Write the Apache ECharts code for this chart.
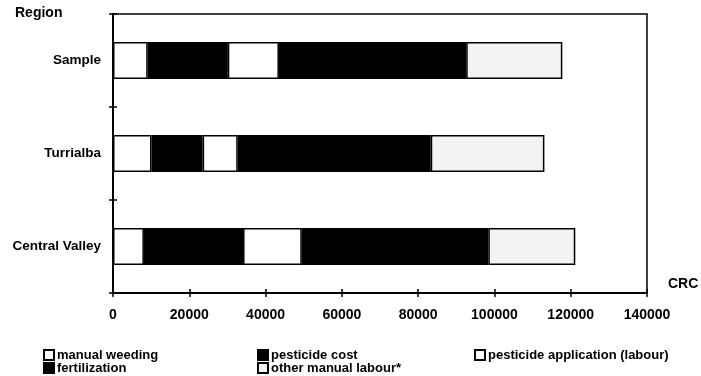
<!DOCTYPE html>
<html>
<head>
<meta charset="utf-8">
<script src="https://cdn.jsdelivr.net/npm/echarts@6/dist/echarts.min.js"></script>
<style>
  html, body { margin: 0; padding: 0; background: #fff; }
  #chart { width: 701px; height: 376px; }
</style>
</head>
<body>
<div id="chart"></div>
<script>
// Cost components per region (CRC), stacked left to right
const regions = ['Sample', 'Turrialba', 'Central Valley'];
const manualWeeding = [9100, 10100, 8100];
const pesticideCost = [21000, 13400, 26000];
const pesticideApplication = [13400, 9200, 15400];
const fertilization = [49100, 50600, 48900];
const otherManualLabour = [25200, 29800, 22800];
const xTicks = { min: 0, max: 140000, step: 20000 };

const FONT = '"Liberation Sans", Arial, sans-serif';
const chart = echarts.init(document.getElementById('chart'), null, { renderer: 'canvas' });

const border = { borderColor: '#000', borderWidth: 1.5 };
function stackSeries(name, data, color) {
  return {
    name: name,
    type: 'bar',
    stack: 'total',
    barWidth: 37,
    data: data,
    itemStyle: Object.assign({ color: color }, border),
    emphasis: { disabled: true }
  };
}

const legendBase = {
  orient: 'vertical',
  top: 348.5,
  padding: 0,
  icon: 'rect',
  itemWidth: 10,
  itemHeight: 10,
  itemGap: 0,
  selectedMode: false,
  textStyle: { fontFamily: FONT, fontWeight: 'bold', fontSize: 13, color: '#000', lineHeight: 13, padding: [0, 0, 0, -2] }
};

chart.setOption({
  animation: false,
  backgroundColor: '#fff',
  grid: {
    left: 113, right: 54, top: 14, bottom: 83,
    show: true, borderColor: '#000', borderWidth: 1.5, backgroundColor: 'transparent'
  },
  xAxis: [{
    type: 'value',
    min: xTicks.min, max: xTicks.max, interval: xTicks.step,
    axisLine: { show: true, lineStyle: { color: '#000', width: 2 } },
    axisTick: { show: true, length: 4, lineStyle: { color: '#000', width: 1.5 } },
    splitLine: { show: false },
    axisLabel: {
      fontFamily: FONT, fontWeight: 'bold', fontSize: 14, color: '#000', margin: 15,
      formatter: function (v) { return String(v); }
    }
  }, {
    type: 'value',
    position: 'bottom',
    min: xTicks.min, max: xTicks.max, interval: xTicks.step,
    axisLine: { show: false },
    axisTick: { show: true, inside: true, length: 4, lineStyle: { color: '#000', width: 1.5 } },
    splitLine: { show: false },
    axisLabel: { show: false }
  }],
  yAxis: [{
    type: 'category',
    inverse: true,
    data: regions,
    axisLine: { show: true, lineStyle: { color: '#000', width: 2 } },
    axisTick: { show: true, length: 4, lineStyle: { color: '#000', width: 1.5 } },
    axisLabel: { fontFamily: FONT, fontWeight: 'bold', fontSize: 13.5, color: '#000', margin: 12 }
  }, {
    type: 'category',
    inverse: true,
    position: 'left',
    data: regions,
    axisLine: { show: false },
    axisTick: { show: true, inside: true, length: 4, lineStyle: { color: '#000', width: 1.5 } },
    axisLabel: { show: false }
  }],
  legend: [
    Object.assign({}, legendBase, { left: 43, data: ['manual weeding', 'fertilization'] }),
    Object.assign({}, legendBase, { left: 257, data: ['pesticide cost', 'other manual labour*'] }),
    Object.assign({}, legendBase, { left: 474, data: ['pesticide application (labour)'] })
  ],
  graphic: [
    { type: 'text', left: 15, top: 6, style: { text: 'Region', font: 'bold 14px ' + FONT, fill: '#000' } },
    { type: 'text', left: 668, top: 277, style: { text: 'CRC', font: 'bold 14px ' + FONT, fill: '#000' } }
  ],
  series: [
    stackSeries('manual weeding', manualWeeding, '#ffffff'),
    stackSeries('pesticide cost', pesticideCost, '#000000'),
    stackSeries('pesticide application (labour)', pesticideApplication, '#ffffff'),
    stackSeries('fertilization', fertilization, '#000000'),
    stackSeries('other manual labour*', otherManualLabour, '#f3f3f3')
  ]
});
</script>
</body>
</html>
